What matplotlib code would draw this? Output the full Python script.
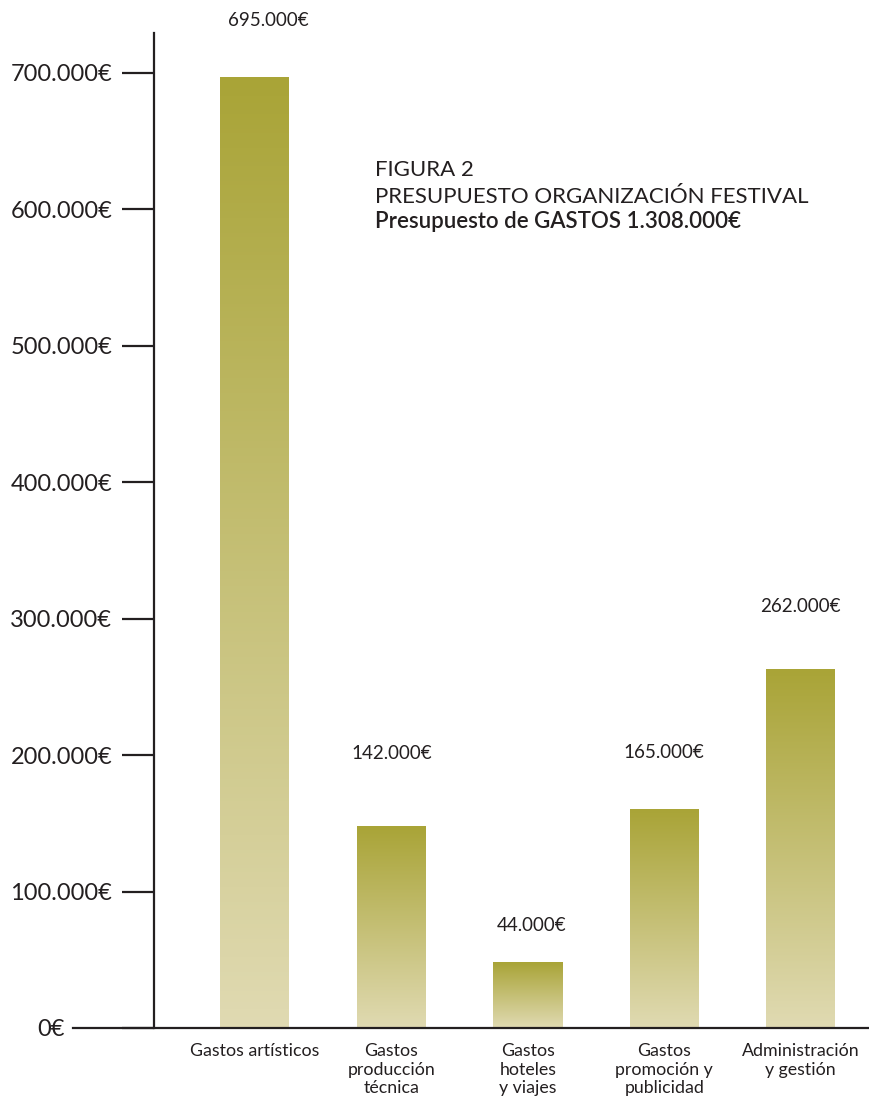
import numpy as np
import matplotlib.pyplot as plt
from matplotlib.colors import LinearSegmentedColormap
from matplotlib.ticker import FuncFormatter

# data
categories = ['Gastos artísticos', 'Gastos\nproducción\ntécnica', 'Gastos\nhoteles\ny viajes',
              'Gastos\npromoción y\npublicidad', 'Administración\ny gestión']
amounts = [695000, 142000, 44000, 165000, 262000]        # printed labels
bar_heights = [697000, 148000, 48000, 160000, 263000]    # heights as drawn
label_gap_px = [57, 73, 37, 57, 63]                       # label distance above bar top
label_shift_px = [13, 0, 4, 0, 0]
y_ticks = [0, 100000, 200000, 300000, 400000, 500000, 600000, 700000]

title_lines = ['FIGURA 2', 'PRESUPUESTO ORGANIZACIÓN FESTIVAL']
subtitle = 'Presupuesto de GASTOS 1.308.000€'

ink = '#231f20'
top_col = '#a9a437'
bottom_col = '#e0dab2'

plt.rcParams['font.family'] = ['Lato', 'DejaVu Sans']

W, H = 870, 1098
fig = plt.figure(figsize=(W / 100, H / 100), dpi=100)
ax = fig.add_axes([73 / W, (H - 1028) / H, (870 - 73) / W, (1028 - 33) / H])

px_per_unit = 136.4
x_left = (73 - 255) / px_per_unit
x_right = (870 - 255) / px_per_unit
x_spine = (154 - 255) / px_per_unit

def euro(v, pos=None):
    return f'{int(v):,}€'.replace(',', '.')

cmap = LinearSegmentedColormap.from_list('olive', [bottom_col, top_col])
grad = np.linspace(0, 1, 256).reshape(-1, 1)
width = 69 / px_per_unit
xs = np.arange(len(categories))
for x, h in zip(xs, bar_heights):
    ax.imshow(grad, cmap=cmap, origin='lower', aspect='auto',
              extent=(x - width / 2, x + width / 2, 0, h), zorder=2)

for x, h, a, g, s in zip(xs, bar_heights, amounts, label_gap_px, label_shift_px):
    ax.annotate(euro(a), (x, h), xytext=(s * 0.72, g * 0.72), textcoords='offset points',
                ha='center', va='center', fontsize=13.5, color=ink, annotation_clip=False)

ax.set_xlim(x_left, x_right)
ax.set_ylim(0, 729300)

for s in ['top', 'right']:
    ax.spines[s].set_visible(False)
ax.spines['left'].set_position(('data', x_spine))
ax.spines['left'].set_color(ink)
ax.spines['left'].set_linewidth(1.6)
ax.spines['bottom'].set_color(ink)
ax.spines['bottom'].set_linewidth(1.6)

ax.set_yticks(y_ticks)
ax.yaxis.set_major_formatter(FuncFormatter(euro))
ax.tick_params(axis='y', length=23, width=1.6, color=ink, pad=7,
               labelsize=17, labelcolor=ink)
ax.yaxis.get_major_ticks()[0].set_pad(41)

ax.set_xticks(xs)
ax.set_xticklabels(categories, fontsize=12.8, color=ink, linespacing=1.2, va='top')
ax.tick_params(axis='x', length=0, pad=11)

fig.text(375 / W, 1 - 170 / H, title_lines[0], fontsize=16, fontweight='normal',
         color=ink, va='center', ha='left')
fig.text(375 / W, 1 - 197 / H, title_lines[1], fontsize=16, fontweight='normal',
         color=ink, va='center', ha='left')
fig.text(375 / W, 1 - 222 / H, subtitle, fontsize=16, fontweight='semibold',
         color=ink, va='center', ha='left')

fig.savefig('out.png', dpi=100)
